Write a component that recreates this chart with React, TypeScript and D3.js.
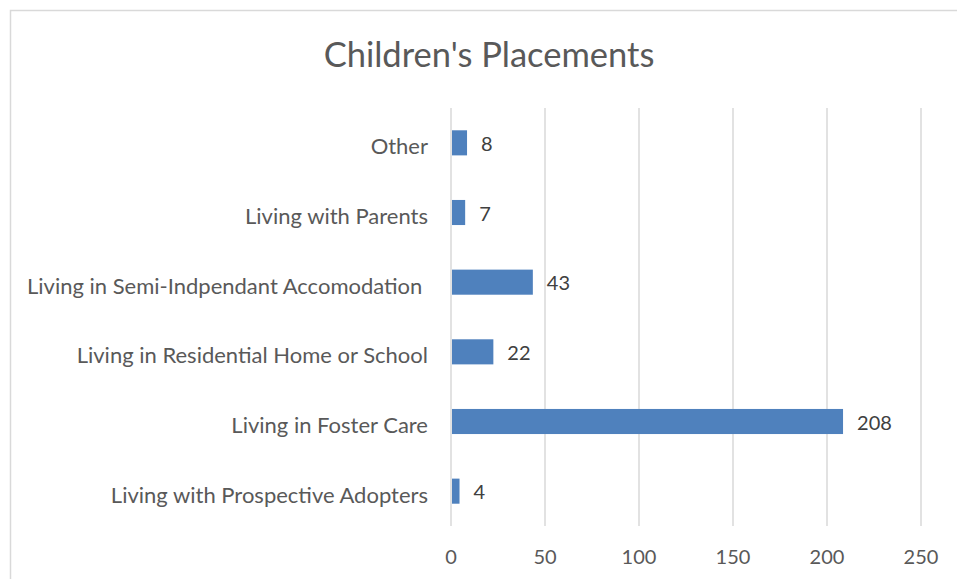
import React from 'react';
import * as d3 from 'd3';

// data, top to bottom as shown
const categories = [
  'Other',
  'Living with Parents',
  'Living in Semi-Indpendant Accomodation ',
  'Living in Residential Home or School',
  'Living in Foster Care',
  'Living with Prospective Adopters',
];
const values = [8, 7, 43, 22, 208, 4];
const xTicks = [0, 50, 100, 150, 200, 250];

const W = 957;
const H = 579;
const FONT = "Lato, 'Open Sans', sans-serif";
const TEXT = '#595959';
const GRID = '#d9d9d9';
const BAR = '#4f81bd';

const App: React.FC = () => {
  const x = d3.scaleLinear().domain([0, 250]).range([451, 921]);
  const y = d3.scaleBand<string>()
    .domain(categories)
    .range([108, 526])
    .paddingInner(0.64)
    .paddingOuter(0.32);

  return (
    <svg width={W} height={H} style={{ position: 'absolute', left: 0, top: 0, background: '#fff' }}>
      {/* chart border */}
      <rect x={10.5} y={10.5} width={1000} height={1000} fill="none" stroke={GRID} strokeWidth={1.5} />

      <text x={489} y={53} textAnchor="middle" dominantBaseline="central"
        style={{ fontFamily: FONT, fontSize: 34.5, fill: TEXT }}>
        Children's Placements
      </text>

      {/* gridlines */}
      {xTicks.map(t => (
        <line key={'g' + t} x1={x(t)} x2={x(t)} y1={108} y2={526} stroke={GRID} strokeWidth={1.5} />
      ))}

      {/* bars */}
      {categories.map((c, i) => (
        <rect key={c} x={x(0) + 1} y={y(c)} width={x(values[i]) - x(0)} height={y.bandwidth()} fill={BAR} />
      ))}

      {/* value labels */}
      {categories.map((c, i) => (
        <text key={'v' + c} x={x(values[i]) + 15} y={(y(c) as number) + y.bandwidth() / 2}
          dominantBaseline="central" style={{ fontFamily: FONT, fontSize: 20, fill: '#404040' }}>
          {values[i]}
        </text>
      ))}

      {/* category labels */}
      {categories.map(c => (
        <text key={'c' + c} x={428} y={(y(c) as number) + y.bandwidth() / 2 + 3}
          textAnchor="end" dominantBaseline="central" xmlSpace="preserve"
          style={{ fontFamily: FONT, fontSize: 22, fill: TEXT, whiteSpace: 'pre' }}>
          {c}
        </text>
      ))}

      {/* x tick labels */}
      {xTicks.map(t => (
        <text key={'t' + t} x={x(t)} y={556} textAnchor="middle" dominantBaseline="central"
          style={{ fontFamily: FONT, fontSize: 20, fill: TEXT }}>
          {t}
        </text>
      ))}
    </svg>
  );
};

export default App;
